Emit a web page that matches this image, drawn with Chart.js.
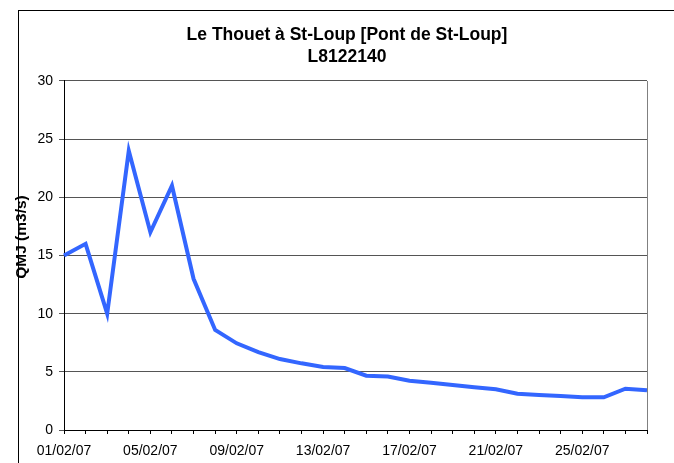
<!DOCTYPE html>
<html>
<head>
<meta charset="utf-8">
<script src="https://cdn.jsdelivr.net/npm/chart.js@4/dist/chart.umd.min.js"></script>
<style>
  html, body { margin: 0; padding: 0; background: #fff; }
  #wrap { width: 674px; height: 463px; }
</style>
</head>
<body>
<div id="wrap"><canvas id="qmjChart" width="674" height="463"></canvas></div>
<script>
// Daily dates, February 2007
const dates = [
  "01/02/07", "02/02/07", "03/02/07", "04/02/07", "05/02/07", "06/02/07", "07/02/07",
  "08/02/07", "09/02/07", "10/02/07", "11/02/07", "12/02/07", "13/02/07", "14/02/07",
  "15/02/07", "16/02/07", "17/02/07", "18/02/07", "19/02/07", "20/02/07", "21/02/07",
  "22/02/07", "23/02/07", "24/02/07", "25/02/07", "26/02/07", "27/02/07", "28/02/07"
]
// QMJ (m3/s)
const qmj = [
  15, 16, 10, 24, 17, 21, 13,
  8.6, 7.45, 6.7, 6.1, 5.73, 5.42, 5.33,
  4.67, 4.6, 4.24, 4.07, 3.87, 3.67, 3.5,
  3.12, 3.0, 2.92, 2.81, 2.81, 3.55, 3.41
]
const titleLines = ["Le Thouet à St-Loup [Pont de St-Loup]", "L8122140"]
const yTitle = "QMJ (m3/s)"
const labelEvery = 4

const FONT = "'Liberation Sans', Arial, sans-serif"

// outer frame, right border of plot area, y axis title
const framePlugin = {
  id: "frame",
  beforeDraw: (chart) => {
    const c = chart.ctx
    c.save()
    c.fillStyle = "#fff"
    c.fillRect(0, 0, chart.width, chart.height)
    c.strokeStyle = "#000"
    c.lineWidth = 1
    c.strokeRect(18.5, 10.5, 800, 800)
    c.restore()
  },
  afterDraw: (chart) => {
    const a = chart.chartArea
    const c = chart.ctx
    c.save()
    c.strokeStyle = "#808080"
    c.lineWidth = 1
    c.beginPath()
    c.moveTo(Math.round(a.right) + 0.5, a.top)
    c.lineTo(Math.round(a.right) + 0.5, a.bottom)
    c.stroke()

    // y axis title, sits a bit above the middle like in the original
    c.translate(22, 237)
    c.rotate(-Math.PI / 2)
    c.fillStyle = "#000"
    c.font = "bold 15.5px " + FONT
    c.textAlign = "center"
    c.textBaseline = "middle"
    c.fillText(yTitle, 0, 0)
    c.restore()
  },
}

new Chart(document.getElementById("qmjChart"), {
  type: "line",
  data: {
    labels: dates,
    datasets: [
      {
        label: "QMJ",
        data: qmj,
        borderColor: "#3366ff",
        borderWidth: 4,
        pointRadius: 0,
        tension: 0,
        fill: false,
      },
    ],
  },
  options: {
    responsive: false,
    animation: false,
    // title is centred a little left of the plot, so the padding is uneven
    layout: { padding: { left: 30, right: 10, top: 0, bottom: 0 } },
    plugins: {
      legend: { display: false },
      tooltip: { enabled: false },
      title: {
        display: true,
        text: titleLines,
        color: "#000",
        font: { family: FONT, size: 17.5, weight: "bold", lineHeight: 1.257 },
        padding: { top: 24, bottom: 13 },
      },
    },
    scales: {
      x: {
        type: "category",
        offset: false,
        grid: {
          drawOnChartArea: false,
          drawTicks: true,
          tickLength: 4,
          color: "#000",
        },
        border: { color: "#000", width: 1 },
        ticks: {
          autoSkip: false,
          maxRotation: 0,
          minRotation: 0,
          color: "#000",
          font: { family: FONT, size: 14 },
          padding: 9,
          callback: (value, index) => (index % labelEvery === 0 ? dates[index] : ""),
        },
        afterFit: (s) => { s.height = 33 },
      },
      y: {
        min: 0,
        max: 30,
        ticks: {
          stepSize: 5,
          color: "#000",
          font: { family: FONT, size: 14 },
          padding: 6,
        },
        grid: {
          color: "#555",
          drawTicks: true,
          tickLength: 5,
        },
        border: { color: "#000", width: 1 },
        afterFit: (s) => { s.width = 34 },
      },
      // empty spacer on the right
      yRight: {
        position: "right",
        display: true,
        grid: { display: false },
        border: { display: false },
        ticks: { display: false },
        afterFit: (s) => { s.width = 17 },
      },
    },
  },
  plugins: [framePlugin],
})
</script>
</body>
</html>
